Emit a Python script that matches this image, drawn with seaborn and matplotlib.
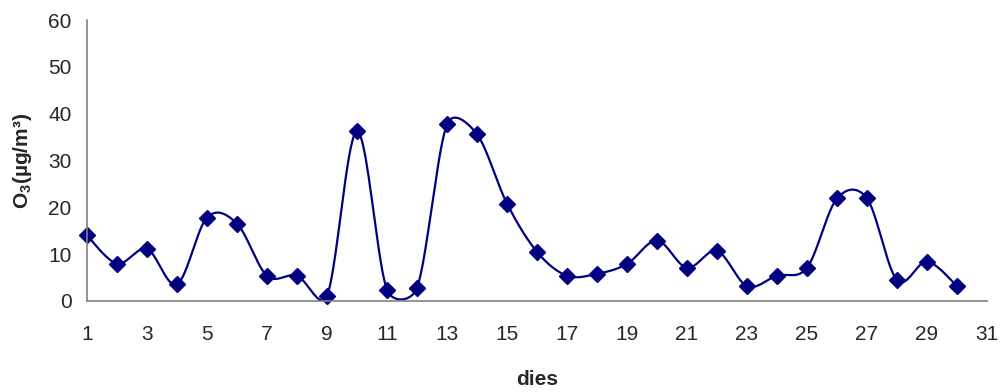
import numpy as np
import pandas as pd
import matplotlib
matplotlib.use("Agg")
import matplotlib.pyplot as plt
import seaborn as sns

# -----------------------------------
# DATA
# -----------------------------------

days = list(range(1, 31))
o3 = [14.0, 8.0, 11.1, 3.6, 17.8, 16.5, 5.4, 5.4, 1.1, 36.2,
      2.4, 2.8, 37.7, 35.6, 20.8, 10.5, 5.4, 5.8, 7.9, 12.9,
      7.1, 10.7, 3.2, 5.4, 7.1, 21.9, 21.9, 4.5, 8.4, 3.2]

x_ticks = list(range(1, 32, 2))
y_ticks = list(range(0, 61, 10))

df = pd.DataFrame({"dies": days, "o3": o3})


# smooth line like a spreadsheet chart: bezier handles = tangent/6,
# capped at half of the segment length (measured in pixels)
def smooth(x, y, sx_px=30.0, sy_px=280 / 60, n=40):
    p = np.column_stack([np.asarray(x, float), np.asarray(y, float)])
    scale = np.array([sx_px, sy_px])
    m = len(p)

    def dist(a, b):
        return np.linalg.norm((a - b) * scale)

    t = np.linspace(0, 1, n)[:, None]
    xs, ys = [], []
    for i in range(m - 1):
        p0 = p[max(i - 1, 0)]
        p1 = p[i]
        p2 = p[i + 1]
        p3 = p[min(i + 2, m - 1)]
        d12 = dist(p1, p2)
        d02 = dist(p0, p2)
        d13 = dist(p1, p3)
        f1 = 1 / 6 if d02 / 6 < d12 / 2 else d12 / 2 / d02
        f2 = 1 / 6 if d13 / 6 < d12 / 2 else d12 / 2 / d13
        c1 = p1 + (p2 - p0) * f1
        c2 = p2 - (p3 - p1) * f2
        b = (1 - t) ** 3 * p1 + 3 * (1 - t) ** 2 * t * c1 \
            + 3 * (1 - t) * t ** 2 * c2 + t ** 3 * p2
        xs.extend(b[:, 0])
        ys.extend(b[:, 1])
    return pd.DataFrame({"dies": xs, "o3": ys})


curve = smooth(days, o3)

# -----------------------------------
# PLOT
# -----------------------------------

sns.set_style("white")
plt.rcParams["font.family"] = ["Liberation Sans", "DejaVu Sans"]
plt.rcParams["mathtext.fontset"] = "custom"
plt.rcParams["mathtext.bf"] = "Liberation Sans:bold"
plt.rcParams["mathtext.rm"] = "Liberation Sans:bold"

fig = plt.figure(figsize=(10.03, 3.92), dpi=100)
ax = fig.add_axes([87 / 1003, 91 / 392, 900 / 1003, 281 / 392])

navy = "#000080"

sns.lineplot(
    x="dies", y="o3", data=curve, ax=ax,
    color=navy, linewidth=1.6, sort=False, estimator=None
)
ax.plot(df["dies"], df["o3"], linestyle="none", marker="D",
        markersize=8, color=navy, clip_on=False)

ax.set_xlim(1, 31)
ax.set_ylim(0, 60)
ax.set_xticks(x_ticks)
ax.set_yticks(y_ticks)

sns.despine(ax=ax)
for side in ["left", "bottom"]:
    ax.spines[side].set_color("#808080")
    ax.spines[side].set_linewidth(1.2)

ax.tick_params(axis="both", direction="out", length=5, width=1,
               color="#404040", labelsize=15, pad=6)
ax.tick_params(axis="x", pad=12)

ax.set_xlabel("dies", fontsize=15, fontweight="bold", labelpad=19)
ax.set_ylabel(r"O$_3$(µg/m³)", fontsize=15, fontweight="bold", labelpad=10)

fig.savefig("out.png", dpi=100)
